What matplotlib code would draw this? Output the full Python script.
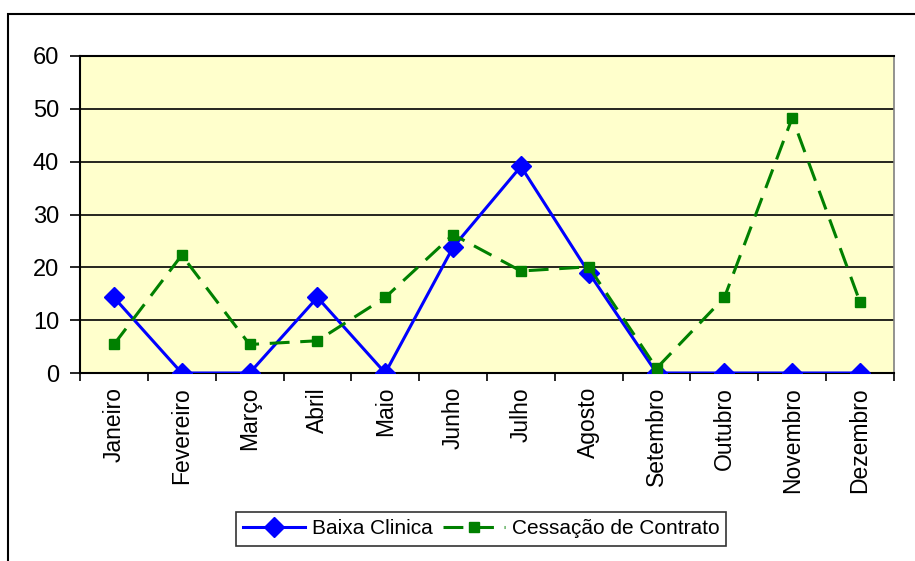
import matplotlib
matplotlib.use("Agg")
import matplotlib.pyplot as plt
from matplotlib.patches import Rectangle
import numpy as np

# monthly values per reason
months = ["Janeiro", "Fevereiro", "Março", "Abril", "Maio", "Junho",
          "Julho", "Agosto", "Setembro", "Outubro", "Novembro", "Dezembro"]
baixa_clinica = [14.3, 0, 0, 14.3, 0, 23.8, 39.1, 19.0, 0, 0, 0, 0]
cessacao = [5.4, 22.3, 5.4, 6.1, 14.3, 26.2, 19.3, 20.1, 0.9, 14.3, 48.3, 13.4]
y_ticks = [0, 10, 20, 30, 40, 50, 60]

plt.rcParams['font.family'] = ['Liberation Sans', 'DejaVu Sans']

fig = plt.figure(figsize=(9.15, 5.61), dpi=100, facecolor='white')
ax = fig.add_axes([80 / 915, 1 - 373 / 561, 814 / 915, 317 / 561])
ax.set_facecolor('#FFFFCC')

x = np.arange(len(months))
ax.plot(x, baixa_clinica, color='#0000FF', linewidth=2.2, marker='D',
        markersize=10.5, label='Baixa Clinica', zorder=3)
ax.plot(x, cessacao, color='#008000', linewidth=2.2, linestyle=(0, (6.5, 3.5)),
        marker='s', markersize=6.5, label='Cessação de Contrato', zorder=3)

ax.set_xlim(-0.5, len(months) - 0.5)
ax.set_ylim(0, 60)
ax.set_yticks(y_ticks)
ax.set_yticklabels([str(v) for v in y_ticks], fontsize=17)
ax.yaxis.grid(True, color='black', linewidth=1.2)
ax.set_axisbelow(True)

# category labels centred, tick marks between categories
ax.set_xticks(x)
ax.set_xticklabels(months, rotation=90, fontsize=16.5)
ax.set_xticks(np.arange(-0.5, len(months)), minor=True)
ax.tick_params(axis='x', which='major', length=0, pad=10)
ax.tick_params(axis='x', which='minor', length=6, width=1.2, direction='out')
ax.tick_params(axis='y', length=7, width=1.2, direction='out', pad=8)

for side in ['left', 'bottom', 'top']:
    ax.spines[side].set_color('black')
    ax.spines[side].set_linewidth(1.5)
ax.spines['right'].set_color('#808080')
ax.spines['right'].set_linewidth(1.2)

leg = fig.legend(loc='center', bbox_to_anchor=(481 / 915, 1 - 529 / 561),
                 ncol=2, fontsize=15, frameon=True, fancybox=False,
                 edgecolor='black', handlelength=3.0, columnspacing=0.5,
                 handletextpad=0.3, borderpad=0.35)
leg.get_frame().set_linewidth(1.2)

# chart area border
fig.patches.append(Rectangle((8 / 915, -0.05), 1.0, 1 - 14 / 561 + 0.05,
                             transform=fig.transFigure, fill=False,
                             edgecolor='black', linewidth=1.5))

fig.savefig('out.png', dpi=100, facecolor='white')
